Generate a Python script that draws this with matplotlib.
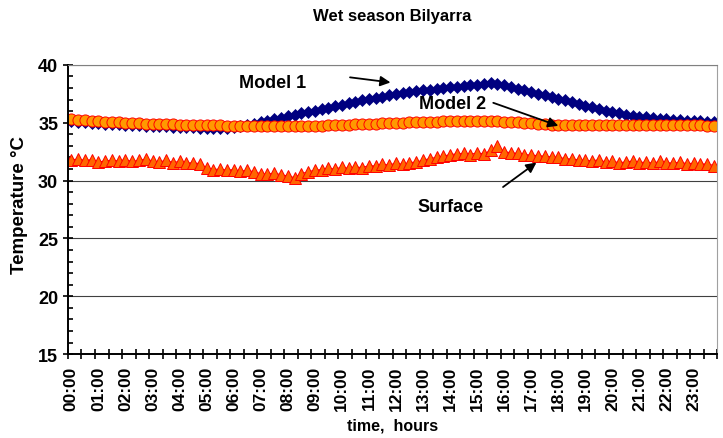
import numpy as np
import matplotlib.pyplot as plt

plt.rcParams['font.family'] = ['Liberation Sans', 'DejaVu Sans']
plt.rcParams['font.weight'] = 'bold'

# 15-minute readings over one day
hour_labels = ["%02d:00" % h for h in range(24)]

model1 = [35.15, 35.10, 35.05, 35.00, 34.95, 34.92, 34.88, 34.85,
          34.82, 34.79, 34.76, 34.74, 34.72, 34.70, 34.68, 34.66,
          34.64, 34.62, 34.60, 34.58, 34.56, 34.55, 34.55, 34.58,
          34.63, 34.72, 34.82, 34.93, 35.05, 35.17, 35.30, 35.42,
          35.55, 35.68, 35.80, 35.93, 36.05, 36.18, 36.30, 36.42,
          36.55, 36.68, 36.80, 36.92, 37.04, 37.15, 37.26, 37.36,
          37.46, 37.55, 37.63, 37.71, 37.79, 37.86, 37.93, 38.00,
          38.06, 38.12, 38.18, 38.24, 38.30, 38.36, 38.40, 38.36,
          38.25, 38.10, 37.95, 37.80, 37.65, 37.50, 37.36, 37.22,
          37.07, 36.92, 36.77, 36.62, 36.47, 36.32, 36.18, 36.05,
          35.92, 35.80, 35.70, 35.61, 35.53, 35.46, 35.40, 35.35,
          35.30, 35.26, 35.22, 35.19, 35.16, 35.13, 35.10, 35.07]

model2 = [35.30, 35.25, 35.20, 35.15, 35.12, 35.10, 35.05, 35.02,
          35.00, 34.98, 34.95, 34.93, 34.90, 34.88, 34.86, 34.85,
          34.83, 34.82, 34.80, 34.79, 34.78, 34.77, 34.76, 34.75,
          34.74, 34.73, 34.72, 34.71, 34.70, 34.69, 34.68, 34.68,
          34.68, 34.69, 34.70, 34.71, 34.73, 34.75, 34.77, 34.79,
          34.81, 34.84, 34.86, 34.88, 34.90, 34.93, 34.95, 34.97,
          34.99, 35.01, 35.03, 35.05, 35.07, 35.08, 35.10, 35.11,
          35.12, 35.13, 35.14, 35.15, 35.15, 35.15, 35.14, 35.12,
          35.10, 35.07, 35.03, 34.99, 34.95, 34.91, 34.87, 34.84,
          34.81, 34.79, 34.78, 34.78, 34.79, 34.80, 34.81, 34.82,
          34.82, 34.83, 34.83, 34.83, 34.83, 34.83, 34.82, 34.82,
          34.81, 34.80, 34.79, 34.78, 34.77, 34.76, 34.75, 34.74]

surface = [31.80, 31.85, 31.75, 31.80, 31.60, 31.70, 31.75, 31.70,
           31.80, 31.65, 31.75, 31.85, 31.70, 31.60, 31.75, 31.55,
           31.65, 31.50, 31.55, 31.45, 31.10, 30.95, 31.00, 30.90,
           30.95, 30.80, 30.90, 30.75, 30.60, 30.55, 30.65, 30.50,
           30.40, 30.25, 30.60, 30.75, 30.90, 30.95, 31.05, 31.00,
           31.15, 31.05, 31.20, 31.10, 31.30, 31.25, 31.40, 31.35,
           31.50, 31.40, 31.55, 31.60, 31.75, 31.90, 32.00, 32.10,
           32.25, 32.30, 32.35, 32.25, 32.40, 32.30, 32.60, 32.95,
           32.50, 32.40, 32.35, 32.25, 32.20, 32.15, 32.10, 32.05,
           32.00, 31.90, 31.85, 31.80, 31.75, 31.70, 31.80, 31.60,
           31.65, 31.55, 31.60, 31.70, 31.55, 31.60, 31.50, 31.65,
           31.55, 31.50, 31.60, 31.45, 31.50, 31.40, 31.45, 31.30]

x = np.arange(len(model1))

fig = plt.figure(figsize=(7.23, 4.39), dpi=100)
ax = fig.add_axes([0.094, 0.191, 0.898, 0.659])

ax.plot(x, model1, color='#000080', marker='D', markersize=6.2, lw=1,
        markeredgecolor='#000080', markeredgewidth=0.5)
ax.plot(x, model2, color='#FF0000', marker='o', markersize=8, lw=0.8,
        markerfacecolor='#FF9900', markeredgecolor='#FF0000', markeredgewidth=0.7)
ax.plot(x, surface, color='#FF0000', marker='^', markersize=8.5, lw=0.8,
        markerfacecolor='#FF6600', markeredgecolor='#FF0000', markeredgewidth=0.7)

ax.set_xlim(-0.5, 95.5)
ax.set_ylim(15, 40)

# hour labels every 4 points, tick marks every 2 points
ax.set_xticks(x[::4])
ax.set_xticklabels(hour_labels, rotation=90, fontsize=12.5, fontweight='bold')
ax.tick_params(axis='x', which='major', length=0, pad=8)
ax.set_xticks(np.arange(-0.5, 96, 2), minor=True)
ax.tick_params(axis='x', which='minor', direction='inout', length=7, width=1.2)

ax.set_yticks([15, 20, 25, 30, 35, 40])
ax.set_yticks(np.arange(15, 41, 1), minor=True)
ax.tick_params(axis='y', which='major', direction='inout', length=7, width=1.2,
               labelsize=13)
ax.tick_params(axis='y', which='minor', direction='in', length=3.5, width=1.2)
for lab in ax.get_yticklabels():
    lab.set_fontweight('bold')

ax.yaxis.grid(True, color='#404040', lw=0.8)
ax.set_axisbelow(True)

ax.spines['left'].set_linewidth(1.4)
ax.spines['bottom'].set_linewidth(1.4)
ax.spines['top'].set_color('#808080')
ax.spines['right'].set_color('#a0a0a0')

ax.set_title("Wet season Bilyarra", fontsize=12, fontweight='bold', pad=32)
ax.set_xlabel("time,  hours", fontsize=11.5, fontweight='bold')
ax.xaxis.set_label_coords(0.5, -0.218)
ax.set_ylabel("Temperature \u00b0C", fontsize=13.5, fontweight='bold')
ax.yaxis.set_label_coords(-0.062, 0.52)

arrow = dict(arrowstyle='-|>', color='black', lw=1.3, mutation_scale=15)
ax.text(29.7, 38.5, "Model 1", fontsize=13, fontweight='bold', ha='center', va='center')
ax.annotate("", xy=(47.6, 38.45), xytext=(40.8, 38.95), arrowprops=arrow)
ax.text(56.4, 36.7, "Model 2", fontsize=13, fontweight='bold', ha='center', va='center')
ax.annotate("", xy=(72.4, 34.65), xytext=(62.0, 36.8), arrowprops=arrow)
ax.text(56.1, 27.8, "Surface", fontsize=13, fontweight='bold', ha='center', va='center')
ax.annotate("", xy=(69.1, 31.7), xytext=(63.5, 29.3), arrowprops=arrow)

fig.savefig("out.png", dpi=100)
